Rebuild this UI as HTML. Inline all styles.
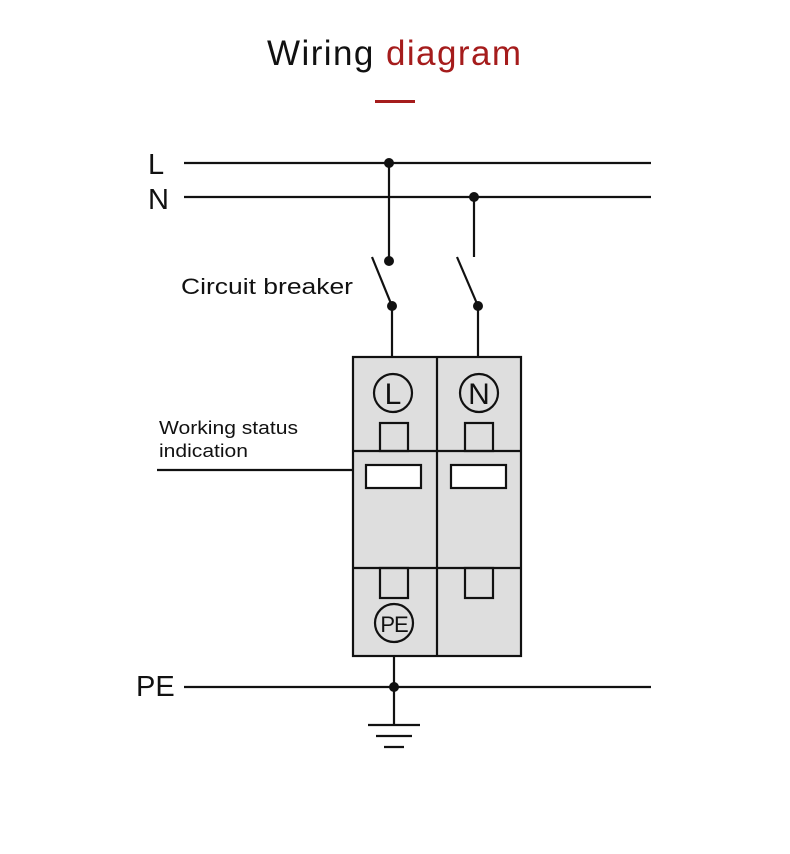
<!DOCTYPE html>
<html><head><style>body{margin:0;background:#fff}</style></head><body>
<svg width="790" height="849" xmlns="http://www.w3.org/2000/svg" font-family="Liberation Sans, Arial, sans-serif">
<rect width="790" height="849" fill="#fff"/>
<text x="267" y="65" font-size="35" textLength="254" lengthAdjust="spacing" fill="#111">Wiring <tspan fill="#a51c1c">diagram</tspan></text>
<rect x="375" y="100" width="40" height="3" fill="#a51c1c"/>
<g stroke="#111" stroke-width="2.2" fill="none">
<line x1="184" y1="163" x2="651" y2="163"/>
<line x1="184" y1="197" x2="651" y2="197"/>
<line x1="184" y1="687" x2="651" y2="687"/>
<line x1="389" y1="163" x2="389" y2="261"/>
<line x1="372" y1="257" x2="392" y2="306"/>
<line x1="392" y1="306" x2="392" y2="357"/>
<line x1="474" y1="197" x2="474" y2="257"/>
<line x1="457" y1="257" x2="478" y2="306"/>
<line x1="478" y1="306" x2="478" y2="357"/>
<line x1="157" y1="470" x2="353" y2="470"/>
<rect x="353" y="357" width="168" height="299" fill="#dedede"/>
<line x1="437" y1="357" x2="437" y2="656"/>
<line x1="353" y1="451" x2="521" y2="451"/>
<line x1="353" y1="568" x2="521" y2="568"/>
<rect x="380" y="423" width="28" height="28"/>
<rect x="465" y="423" width="28" height="28"/>
<rect x="366" y="465" width="55" height="23" fill="#fff"/>
<rect x="451" y="465" width="55" height="23" fill="#fff"/>
<rect x="380" y="568" width="28" height="30"/>
<rect x="465" y="568" width="28" height="30"/>
<circle cx="393" cy="393" r="19"/>
<circle cx="479" cy="393" r="19"/>
<circle cx="394" cy="623" r="19"/>
<line x1="394" y1="656" x2="394" y2="725"/>
<line x1="368" y1="725" x2="420" y2="725"/>
<line x1="376" y1="736" x2="412" y2="736"/>
<line x1="384" y1="747" x2="404" y2="747"/>
</g>
<g fill="#111">
<circle cx="389" cy="163" r="5"/><circle cx="474" cy="197" r="5"/>
<circle cx="389" cy="261" r="5"/><circle cx="392" cy="306" r="5"/>
<circle cx="478" cy="306" r="5"/><circle cx="394" cy="687" r="5"/>
</g>
<g fill="#111">
<text x="148" y="174" font-size="29">L</text>
<text x="148" y="209" font-size="29">N</text>
<text x="136" y="696" font-size="29">PE</text>
<text x="181" y="294" font-size="22" textLength="172" lengthAdjust="spacingAndGlyphs">Circuit breaker</text>
<text x="159" y="434" font-size="18" textLength="139" lengthAdjust="spacingAndGlyphs">Working status</text>
<text x="159" y="457" font-size="18" textLength="89" lengthAdjust="spacingAndGlyphs">indication</text>
<text x="393" y="404" font-size="30" text-anchor="middle">L</text>
<text x="479" y="404" font-size="30" text-anchor="middle">N</text>
<text x="394" y="632" font-size="22" text-anchor="middle" letter-spacing="-1">PE</text>
</g>
</svg>
</body></html>
